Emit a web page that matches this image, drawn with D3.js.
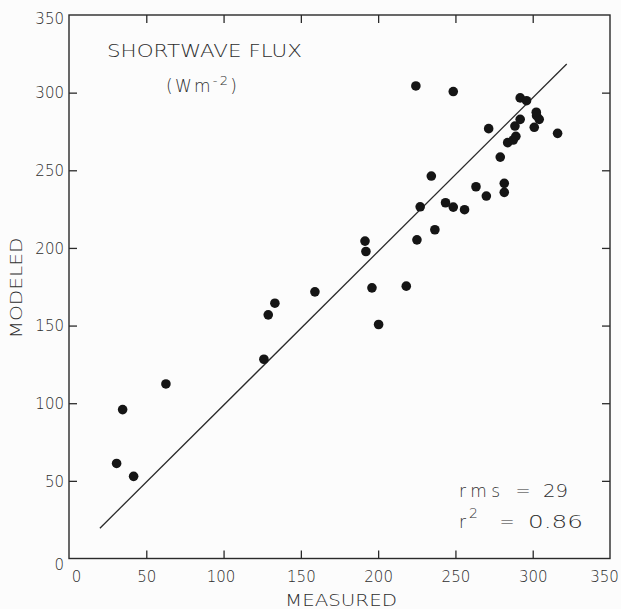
<!DOCTYPE html>
<html><head><meta charset="utf-8">
<script src="https://cdn.jsdelivr.net/npm/d3@7"></script>
<style>
html,body{margin:0;padding:0;background:#fcfcfc;}
svg{display:block;}
text{font-family:"DejaVu Sans",sans-serif;font-weight:200;fill:#2e2e2e;}
</style></head>
<body>
<script>
// Data
const measured = [30.8,41.8,34.7,62.7,126.1,128.9,133.2,159.1,191.5,192.1,196,200.3,218.2,225.1,227.2,236.7,234.4,243.6,248.6,255.9,263.3,270,281.6,281.6,279,283.8,287.4,289.1,271.5,288.5,291.9,301,304.2,302.5,302.3,291.9,296,316.1,224.4,248.6];
const modeled  = [61.2,52.9,95.9,112.4,128.3,156.9,164.4,171.7,204.4,197.7,174.3,150.7,175.4,205.2,226.5,211.7,246.3,229.1,226.3,224.6,239.4,233.4,241.6,235.8,258.5,267.8,269.5,271.9,276.8,278.5,282.8,277.7,282.8,285.2,287.4,296.6,294.8,273.8,304.3,300.7];
const fitX = [20, 322];
const fitY = [19.5, 318.5];
const tickValues = [0,50,100,150,200,250,300,350];
const innerTicks = [50,100,150,200,250,300];
const xLabel = "MEASURED";
const yLabel = "MODELED";
const title1 = "SHORTWAVE FLUX";
const statNames = ["rms", "r"];
const statValues = ["29", "0.86"];

const W = 621, H = 609;
const L = 69, R = 610, T = 15, B = 558.5;
const svg = d3.select("body").append("svg").attr("width", W).attr("height", H);
const x = d3.scaleLinear().domain([0,350]).range([L,R]);
const y = d3.scaleLinear().domain([0,350]).range([B,T]);

// Frame
svg.append("rect").attr("x",L).attr("y",T).attr("width",R-L).attr("height",B-T)
  .attr("fill","none").attr("stroke","#2a2a2a").attr("stroke-width",1.4);

// Inward ticks on all sides
const tl = 8;
function styleAxis(g){ g.select(".domain").remove(); g.selectAll("line").attr("stroke","#2a2a2a").attr("stroke-width",1.3); }
svg.append("g").attr("transform",`translate(0,${B})`)
  .call(d3.axisTop(x).tickValues(innerTicks).tickSize(tl).tickFormat("")).call(styleAxis);
svg.append("g").attr("transform",`translate(0,${T})`)
  .call(d3.axisBottom(x).tickValues(innerTicks).tickSize(tl).tickFormat("")).call(styleAxis);
svg.append("g").attr("transform",`translate(${L},0)`)
  .call(d3.axisRight(y).tickValues(innerTicks).tickSize(tl).tickFormat("")).call(styleAxis);
svg.append("g").attr("transform",`translate(${R},0)`)
  .call(d3.axisLeft(y).tickValues(innerTicks).tickSize(tl).tickFormat("")).call(styleAxis);

// Tick labels
const xl = svg.append("g").attr("transform",`translate(0,${B})`)
  .call(d3.axisBottom(x).tickValues(tickValues).tickSize(0).tickPadding(0).tickFormat(d3.format("d")));
xl.select(".domain").remove();
xl.selectAll("text").attr("y",23).attr("dy",null).attr("font-size",15).style("fill","#2e2e2e")
  .attr("dx", d => d===0 ? 7 : (d===100 ? -3 : (d===350 ? -6 : 0)));
const yl = svg.append("g").attr("transform",`translate(${L},0)`)
  .call(d3.axisLeft(y).tickValues(tickValues).tickSize(0).tickPadding(5).tickFormat(d3.format("d")));
yl.select(".domain").remove();
yl.selectAll("text").attr("font-size",15).style("fill","#2e2e2e")
  .attr("dy", d => d===0 ? "0.75em" : (d===350 ? "0.55em" : "0.35em"));

// Axis titles
svg.append("text").attr("x",341).attr("y",606).attr("text-anchor","middle")
  .attr("font-size",16).attr("textLength",112).attr("lengthAdjust","spacingAndGlyphs").text(xLabel);
svg.append("text").attr("transform","translate(22,288) rotate(-90)").attr("text-anchor","middle")
  .attr("font-size",16).attr("textLength",101).attr("lengthAdjust","spacingAndGlyphs").text(yLabel);

// Title
svg.append("text").attr("x",107).attr("y",57).attr("font-size",18)
  .attr("textLength",195).attr("lengthAdjust","spacingAndGlyphs").text(title1);
const t2 = svg.append("text").attr("x",166).attr("y",92).attr("font-size",17)
  .attr("textLength",71).attr("lengthAdjust","spacing");
t2.append("tspan").text("(Wm");
t2.append("tspan").attr("dy",-7).attr("font-size",13).text("-2");
t2.append("tspan").attr("dy",7).text(")");

// Stats
svg.append("text").attr("x",459).attr("y",497).attr("font-size",17)
  .attr("textLength",41).attr("lengthAdjust","spacing").text(statNames[0]);
svg.append("text").attr("x",459).attr("y",528).attr("font-size",17).text(statNames[1]);
svg.append("text").attr("x",469).attr("y",518).attr("font-size",14).text("2");
svg.append("text").attr("x",523).attr("y",497).attr("font-size",18).attr("text-anchor","middle").text("=");
svg.append("text").attr("x",507).attr("y",528).attr("font-size",18).attr("text-anchor","middle").text("=");
svg.append("text").attr("x",543).attr("y",497).attr("font-size",18)
  .attr("textLength",25).attr("lengthAdjust","spacingAndGlyphs").text(statValues[0]);
svg.append("text").attr("x",528).attr("y",528).attr("font-size",18)
  .attr("textLength",55).attr("lengthAdjust","spacingAndGlyphs").text(statValues[1]);

// Fit line
svg.append("line").attr("x1",x(fitX[0])).attr("y1",y(fitY[0])).attr("x2",x(fitX[1])).attr("y2",y(fitY[1]))
  .attr("stroke","#2a2a2a").attr("stroke-width",1.3);

// Points
svg.append("g").selectAll("circle").data(measured.map((m,i)=>[m,modeled[i]])).join("circle")
  .attr("cx",d=>x(d[0])).attr("cy",d=>y(d[1])).attr("r",4.8).attr("fill","#151515");
</script>
</body></html>
